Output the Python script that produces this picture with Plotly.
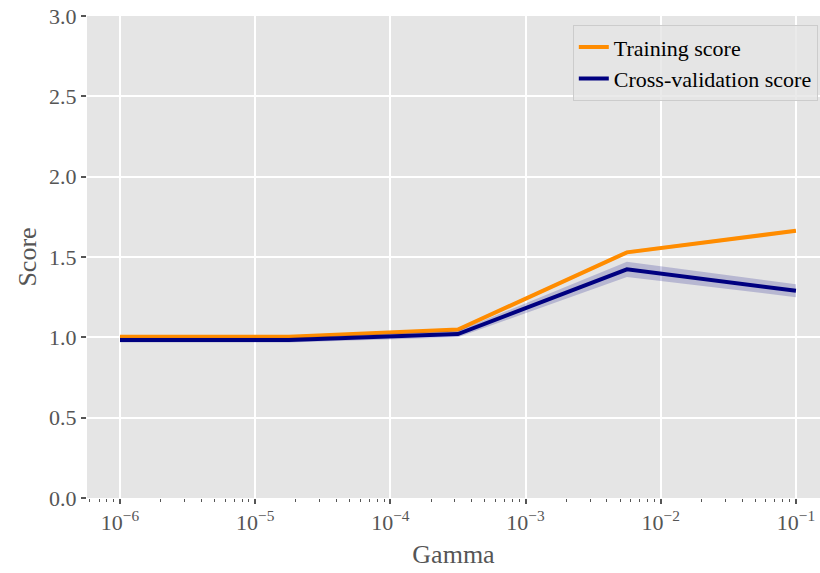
import numpy as np
import plotly.graph_objects as go

gamma = [1e-6, 1.78e-5, 3.16e-4, 5.62e-3, 1e-1]
train_mean = [1.003, 1.003, 1.048, 1.529, 1.663]
train_std = [0.008, 0.008, 0.01, 0.012, 0.01]
cv_mean = [0.983, 0.983, 1.02, 1.423, 1.29]
cv_std = [0.015, 0.015, 0.02, 0.047, 0.04]
xtick_vals = [1e-6, 1e-5, 1e-4, 1e-3, 1e-2, 1e-1]
xtick_text = ["10<sup>−6</sup>", "10<sup>−5</sup>", "10<sup>−4</sup>",
              "10<sup>−3</sup>", "10<sup>−2</sup>", "10<sup>−1</sup>"]

minor_vals = [m * 10.0 ** k for k in range(-7, 0) for m in range(2, 10)]

FONT = "Liberation Serif"
GRAY = "#555555"

fig = go.Figure()

def band(x, m, s, color):
    up = [a + b for a, b in zip(m, s)]
    lo = [a - b for a, b in zip(m, s)]
    fig.add_trace(go.Scatter(x=x, y=up, mode="lines", line=dict(width=0),
                             showlegend=False, hoverinfo="skip"))
    fig.add_trace(go.Scatter(x=x, y=lo, mode="lines", line=dict(width=0),
                             fill="tonexty", fillcolor=color,
                             showlegend=False, hoverinfo="skip"))

band(gamma, train_mean, train_std, "rgba(255,140,0,0.2)")
fig.add_trace(go.Scatter(x=gamma, y=train_mean, mode="lines", name="Training score",
                         line=dict(color="darkorange", width=4)))
band(gamma, cv_mean, cv_std, "rgba(0,0,128,0.2)")
fig.add_trace(go.Scatter(x=gamma, y=cv_mean, mode="lines", name="Cross-validation score",
                         line=dict(color="navy", width=4)))

fig.update_layout(
    width=820, height=573,
    margin=dict(l=87, r=0, t=16, b=75),
    paper_bgcolor="white",
    plot_bgcolor="#E5E5E5",
    font=dict(family=FONT, size=22, color=GRAY),
    legend=dict(x=0.997, y=0.981, xanchor="right", yanchor="top",
                traceorder="normal", tracegroupgap=0,
                bgcolor="rgba(229,229,229,0.8)", bordercolor="#CCCCCC", borderwidth=1,
                font=dict(family=FONT, size=22, color="black")),
)
fig.update_xaxes(
    type="log", range=[-6.244, -0.822],
    tickvals=xtick_vals, ticktext=xtick_text,
    showgrid=True, gridcolor="white", gridwidth=1.5,
    ticks="outside", ticklen=5, tickwidth=1.5, tickcolor=GRAY,
    minor=dict(tickvals=minor_vals, ticks="outside", ticklen=3, tickwidth=1,
               tickcolor=GRAY, showgrid=False),
    zeroline=False, showline=False,
    title=dict(text="Gamma", font=dict(size=26, color=GRAY), standoff=10),
    tickfont=dict(size=22, color=GRAY),
)
fig.update_yaxes(
    range=[0, 3], dtick=0.5, tickformat=".1f",
    showgrid=True, gridcolor="white", gridwidth=1.5,
    ticks="outside", ticklen=5, tickwidth=1.5, tickcolor=GRAY,
    zeroline=False, showline=False,
    title=dict(text="Score", font=dict(size=26, color=GRAY), standoff=4),
    tickfont=dict(size=22, color=GRAY),
)

fig.write_html("out.html", config={"displayModeBar": False},
               post_script="document.body.style.margin='0';")
